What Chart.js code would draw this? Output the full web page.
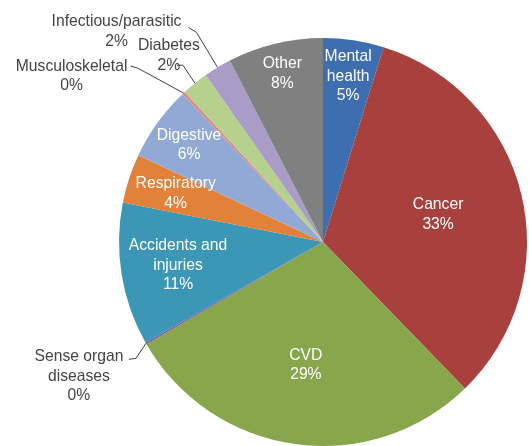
<!DOCTYPE html>
<html>
<head>
<meta charset="utf-8">
<script src="https://cdn.jsdelivr.net/npm/chart.js@4"></script>
<style>
  html, body { margin: 0; padding: 0; background: #fff; }
  #wrap { width: 529px; height: 446px; }
</style>
</head>
<body>
<div id="wrap"><canvas id="causesChart" width="529" height="446"></canvas></div>
<script>
// share of burden by cause group (%), clockwise from 12 o'clock
var causes = ['Mental health', 'Cancer', 'CVD', 'Sense organ diseases', 'Accidents and injuries',
    'Respiratory', 'Digestive', 'Musculoskeletal', 'Diabetes', 'Infectious/parasitic', 'Other'];
var shares = [4.8, 32.95, 28.9, 0.15, 11.3, 3.9, 5.9, 0.25, 2.1, 2.2, 7.55];
var labelLines = [['Mental', 'health'], ['Cancer'], ['CVD'], ['Sense organ', 'diseases'],
    ['Accidents and', 'injuries'], ['Respiratory'], ['Digestive'], ['Musculoskeletal'],
    ['Diabetes'], ['Infectious/parasitic'], ['Other']];
var colors = ['#3d6eb0', '#a8403d', '#88a64c', '#7d60a0', '#3b97b5',
    '#e2823a', '#93a9d5', '#d98e8c', '#b6d08e', '#a99cc6', '#808080'];

// label placement: inside labels sit at a fraction of the radius,
// outside labels are offset from the slice's outer edge with a leader line
var labelPlacement = [
    { r: 0.82 },
    { r: 0.58 },
    { r: 0.61 },
    { tx: -67, ty: 33, leader: [[-10, 15], [-17, 16]] },
    { r: 0.72 },
    { r: 0.76 },
    { r: 0.81 },
    { tx: -112, ty: -17, leader: [[-46, -25], [-53, -27]] },
    { tx: -26, ty: -27.5, leader: [[-12, -18], [-18, -18]] },
    { tx: -101, ty: -35.5, leader: [[-21, -35], [-29, -40]] },
    { r: 0.85 }
];

var total = shares.reduce(function (a, b) { return a + b; }, 0);
var FONT = '15.7px "Liberation Sans", Arial, sans-serif';
var LINE_H = 19.5;

var sliceLabels = {
    id: 'sliceLabels',
    afterDatasetsDraw: function (chart) {
        var c = chart.ctx;
        var arcs = chart.getDatasetMeta(0).data;
        c.save();
        c.font = FONT;
        c.textAlign = 'center';
        c.textBaseline = 'middle';
        arcs.forEach(function (arc, i) {
            var p = arc.getProps(['x', 'y', 'startAngle', 'endAngle', 'outerRadius'], true);
            var mid = (p.startAngle + p.endAngle) / 2;
            var place = labelPlacement[i];
            var lines = labelLines[i].concat([Math.round(shares[i] / total * 100) + '%']);
            var cx, cy;
            if (place.r !== undefined) {
                cx = p.x + Math.cos(mid) * p.outerRadius * place.r;
                cy = p.y + Math.sin(mid) * p.outerRadius * place.r;
                c.fillStyle = '#ffffff';
            } else {
                var ax = p.x + Math.cos(mid) * p.outerRadius;
                var ay = p.y + Math.sin(mid) * p.outerRadius;
                c.strokeStyle = '#404040';
                c.lineWidth = 1;
                c.beginPath();
                c.moveTo(ax, ay);
                place.leader.forEach(function (pt) { c.lineTo(ax + pt[0], ay + pt[1]); });
                c.stroke();
                cx = ax + place.tx;
                cy = ay + place.ty;
                c.fillStyle = '#454545';
            }
            var top = cy - (lines.length - 1) * LINE_H / 2;
            lines.forEach(function (t, k) { c.fillText(t, cx, top + k * LINE_H); });
        });
        c.restore();
    }
};

var ctx = document.getElementById('causesChart').getContext('2d');
var causesChart = new Chart(ctx, {
    type: 'pie',
    data: {
        labels: causes,
        datasets: [
            {
                data: shares,
                backgroundColor: colors,
                borderWidth: 0
            }
        ]
    },
    options: {
        responsive: false,
        animation: false,
        layout: { padding: { left: 119, right: 2, top: 38, bottom: 0 } },
        plugins: {
            legend: { display: false },
            tooltip: { enabled: false }
        }
    },
    plugins: [sliceLabels]
});
</script>
</body>
</html>
